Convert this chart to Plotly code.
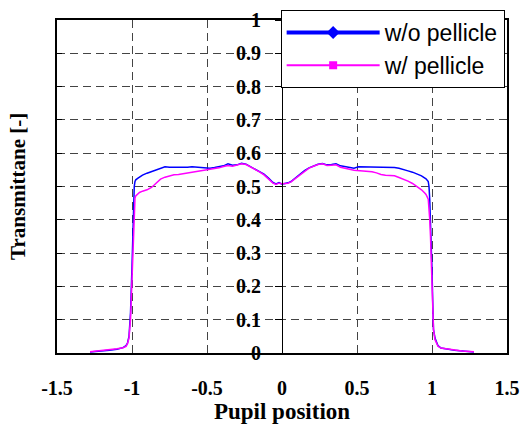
import plotly.graph_objects as go

x_pos = [-1.28, -1.2, -1.15, -1.1, -1.06, -1.04, -1.03, -1.02, -1.01, -1.0, -0.995, -0.99, -0.985, -0.98,
         -0.975, -0.96, -0.95, -0.93, -0.9, -0.87, -0.84, -0.81, -0.78, -0.75, -0.72, -0.69, -0.66, -0.63,
         -0.6, -0.57, -0.54, -0.51, -0.48, -0.45, -0.42, -0.39, -0.36, -0.33, -0.3, -0.27, -0.24, -0.21,
         -0.18, -0.15, -0.12, -0.09, -0.06, -0.04, -0.02, 0.0,
         0.02, 0.04, 0.06, 0.09, 0.12, 0.15, 0.18, 0.21, 0.24, 0.27, 0.3, 0.33, 0.36, 0.39, 0.42, 0.45,
         0.48, 0.51, 0.54, 0.57, 0.6, 0.63, 0.66, 0.69, 0.72, 0.75, 0.78, 0.81, 0.84, 0.87, 0.9, 0.93,
         0.95, 0.96, 0.975, 0.98, 0.985, 0.99, 0.995, 1.0, 1.005, 1.01, 1.02, 1.03, 1.04, 1.06, 1.1,
         1.15, 1.2, 1.28]

t_without = [0.003, 0.005, 0.008, 0.011, 0.016, 0.022, 0.03, 0.05, 0.12, 0.26, 0.36, 0.44, 0.50, 0.515,
             0.52, 0.525, 0.528, 0.534, 0.54, 0.545, 0.55, 0.553, 0.559, 0.558, 0.558, 0.556, 0.557, 0.558,
             0.559, 0.558, 0.558, 0.556, 0.555, 0.557, 0.560, 0.562, 0.568, 0.564, 0.565, 0.570, 0.567, 0.560,
             0.552, 0.545, 0.537, 0.525, 0.512, 0.508, 0.512, 0.507,
             0.508, 0.511, 0.515, 0.526, 0.537, 0.548, 0.556, 0.562, 0.567, 0.569, 0.565, 0.566, 0.568, 0.562,
             0.560, 0.557, 0.555, 0.559, 0.559, 0.558, 0.558, 0.557, 0.557, 0.559, 0.558, 0.557, 0.555, 0.550,
             0.547, 0.543, 0.538, 0.532, 0.526, 0.523, 0.515, 0.50, 0.46, 0.40, 0.33, 0.25, 0.15, 0.07,
             0.045, 0.03, 0.022, 0.015, 0.011, 0.008, 0.006, 0.003]

t_with = [0.004, 0.007, 0.010, 0.013, 0.016, 0.02, 0.028, 0.045, 0.1, 0.22, 0.30, 0.38, 0.44, 0.465,
          0.472, 0.478, 0.482, 0.486, 0.49, 0.497, 0.51, 0.522, 0.528, 0.532, 0.535, 0.536, 0.538, 0.540,
          0.542, 0.545, 0.548, 0.549, 0.551, 0.553, 0.556, 0.560, 0.563, 0.561, 0.565, 0.568, 0.566, 0.559,
          0.551, 0.544, 0.535, 0.523, 0.510, 0.506, 0.510, 0.508,
          0.509, 0.510, 0.514, 0.524, 0.535, 0.546, 0.555, 0.561, 0.566, 0.568, 0.563, 0.564, 0.565, 0.558,
          0.556, 0.552, 0.549, 0.548, 0.547, 0.546, 0.544, 0.541, 0.536, 0.534, 0.533, 0.532, 0.527, 0.522,
          0.516, 0.509, 0.500, 0.490, 0.481, 0.476, 0.462, 0.44, 0.40, 0.35, 0.29, 0.22, 0.14, 0.07,
          0.04, 0.028, 0.02, 0.015, 0.012, 0.009, 0.006, 0.004]

series_names = ["w/o pellicle", "w/ pellicle"]
x_ticks = [-1.5, -1, -0.5, 0, 0.5, 1, 1.5]
x_tick_labels = ["-1.5", "-1", "-0.5", "0", "0.5", "1", "1.5"]
y_ticks = [0, 0.1, 0.2, 0.3, 0.4, 0.5, 0.6, 0.7, 0.8, 0.9, 1]
y_tick_labels = ["0", "0.1", "0.2", "0.3", "0.4", "0.5", "0.6", "0.7", "0.8", "0.9", "1"]

BLUE = "#0000ff"
MAGENTA = "#ff00ff"
serif = "Liberation Serif"

fig = go.Figure()
fig.add_trace(go.Scatter(x=x_pos, y=t_without, mode="lines", line=dict(color=BLUE, width=1.5),
                         showlegend=False))
fig.add_trace(go.Scatter(x=x_pos, y=t_with, mode="lines", line=dict(color=MAGENTA, width=1.5),
                         showlegend=False))
# legend entries
fig.add_trace(go.Scatter(x=[None], y=[None], mode="lines+markers", name=series_names[0],
                         line=dict(color=BLUE, width=4), marker=dict(symbol="diamond", size=10, color=BLUE),
                         legendgroup="a"))
fig.add_trace(go.Scatter(x=[None], y=[None], mode="lines+markers", name=series_names[1],
                         line=dict(color=MAGENTA, width=2), marker=dict(symbol="square", size=8, color=MAGENTA),
                         legendgroup="b"))

# frame axis (left/right borders with inner ticks)
fig.add_trace(go.Scatter(x=[None], y=[None], yaxis="y2", showlegend=False))

fig.update_layout(
    width=529, height=430,
    margin=dict(l=57, r=16, t=9, b=77),
    paper_bgcolor="white", plot_bgcolor="white",
    xaxis=dict(range=[-1.5, 1.5], tickvals=x_ticks, ticktext=["<b>%s</b>" % s for s in x_tick_labels],
               showline=True, linecolor="black", linewidth=1.5, mirror=True,
               showgrid=True, gridcolor="#444444", griddash="8px,5px", gridwidth=1,
               zeroline=False, ticks="", ticklabelstandoff=16,
               tickfont=dict(family=serif, size=20, color="black"),
               title=dict(text="<b>Pupil position</b>", font=dict(family=serif, size=23, color="black"),
                          standoff=1)),
    yaxis=dict(range=[0, 1], tickvals=y_ticks, ticktext=["<b>%s</b>" % s for s in y_tick_labels],
               anchor="free", position=0.5,
               showline=True, linecolor="black", linewidth=1.2,
               showgrid=True, gridcolor="#444444", griddash="8px,5px", gridwidth=1,
               zeroline=False, ticks="outside", ticklen=7, tickcolor="black",
               ticklabelstandoff=10,
               tickfont=dict(family=serif, size=20, color="black")),
    yaxis2=dict(range=[0, 1], overlaying="y", anchor="x", side="left", tickvals=y_ticks,
                showticklabels=False, ticks="inside", ticklen=5, tickcolor="black",
                showline=True, linecolor="black", linewidth=1.5, mirror=True,
                showgrid=False, zeroline=False),
    legend=dict(x=0.497, y=1.03, xanchor="left", yanchor="top", bgcolor="white",
                bordercolor="black", borderwidth=1, itemwidth=93, tracegroupgap=0,
                font=dict(family="Liberation Sans", size=23, color="black")),
    annotations=[dict(text="<b>Transmittane [-]</b>", xref="paper", yref="paper", x=-0.088, y=0.5,
                      textangle=-90, showarrow=False, xanchor="center", yanchor="middle",
                      font=dict(family=serif, size=21, color="black"))],
)

fig.write_html("out.html")
